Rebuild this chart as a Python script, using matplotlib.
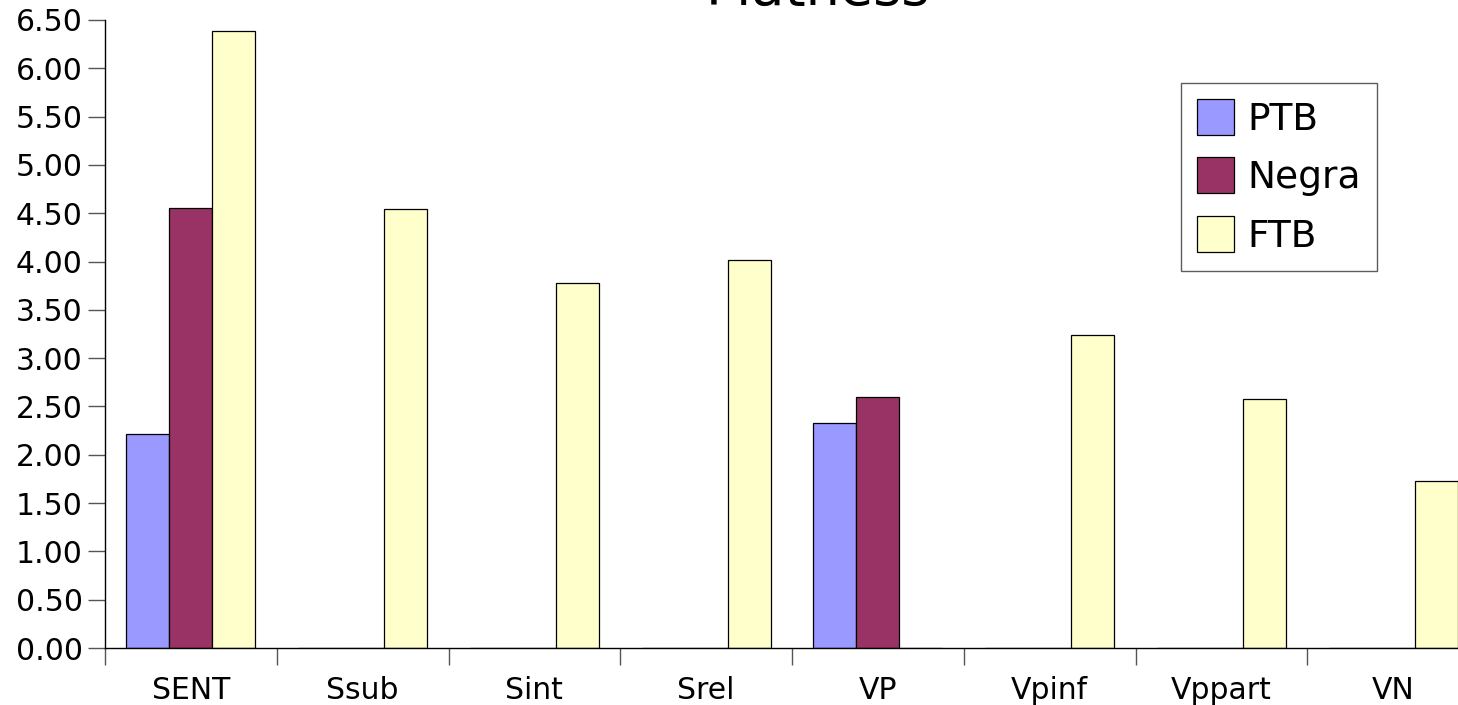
import numpy as np
import matplotlib.pyplot as plt

# Flatness per category for each treebank
categories = ['SENT', 'Ssub', 'Sint', 'Srel', 'VP', 'Vpinf', 'Vppart', 'VN']
ptb = [2.22, 0, 0, 0, 2.33, 0, 0, 0]
negra = [4.55, 0, 0, 0, 2.60, 0, 0, 0]
ftb = [6.39, 4.54, 3.78, 4.02, 0, 3.24, 2.58, 1.73]
series = ['PTB', 'Negra', 'FTB']
colors = ['#9999FF', '#993366', '#FFFFCC']

fig = plt.figure(figsize=(14.58, 7.05), dpi=100)
# axes run a little past the right edge of the figure
ax = fig.add_axes([105 / 1458, 57 / 705, 1374 / 1458, 628 / 705])

x = np.arange(len(categories))
width = 0.25
for i, (vals, name, col) in enumerate(zip([ptb, negra, ftb], series, colors)):
    ax.bar(x + 0.125 + i * width, vals, width, align='edge', color=col,
           edgecolor='black', linewidth=0.9, label=name)

ax.set_xlim(0, len(categories))
ax.set_ylim(0, 6.5)
ax.set_yticks(np.arange(0, 6.51, 0.5))
ax.set_yticklabels([f'{v:.2f}' for v in np.arange(0, 6.51, 0.5)])

ax.set_xticks(x)
ax.set_xticklabels([])
ax.set_xticks(x + 0.5, minor=True)
ax.set_xticklabels(categories, minor=True)
ax.tick_params(axis='x', which='major', length=12, width=1, color='#555555', direction='out')
ax.tick_params(axis='x', which='minor', length=0, pad=20, labelsize=21.5)
ax.tick_params(axis='y', length=12, width=1, color='#555555', direction='out', pad=4,
               labelsize=21.5)

for s in ['top', 'right']:
    ax.spines[s].set_visible(False)
for s in ['left', 'bottom']:
    ax.spines[s].set_color('black')
    ax.spines[s].set_linewidth(1)

leg = ax.legend(loc='upper left', bbox_to_anchor=((1181 - 105) / 1374, (648 - 83) / 628),
                fontsize=27, frameon=True, fancybox=False, handlelength=1.0,
                handleheight=1.1, handletextpad=0.35, labelspacing=0.53,
                borderpad=0.42, borderaxespad=0)
leg.get_frame().set_edgecolor('#333333')
leg.get_frame().set_linewidth(1)

fig.text(818 / 1458, 1 - 5 / 705, 'Flatness', fontsize=39, ha='center', va='baseline')

fig.savefig('out.png', dpi=100)
